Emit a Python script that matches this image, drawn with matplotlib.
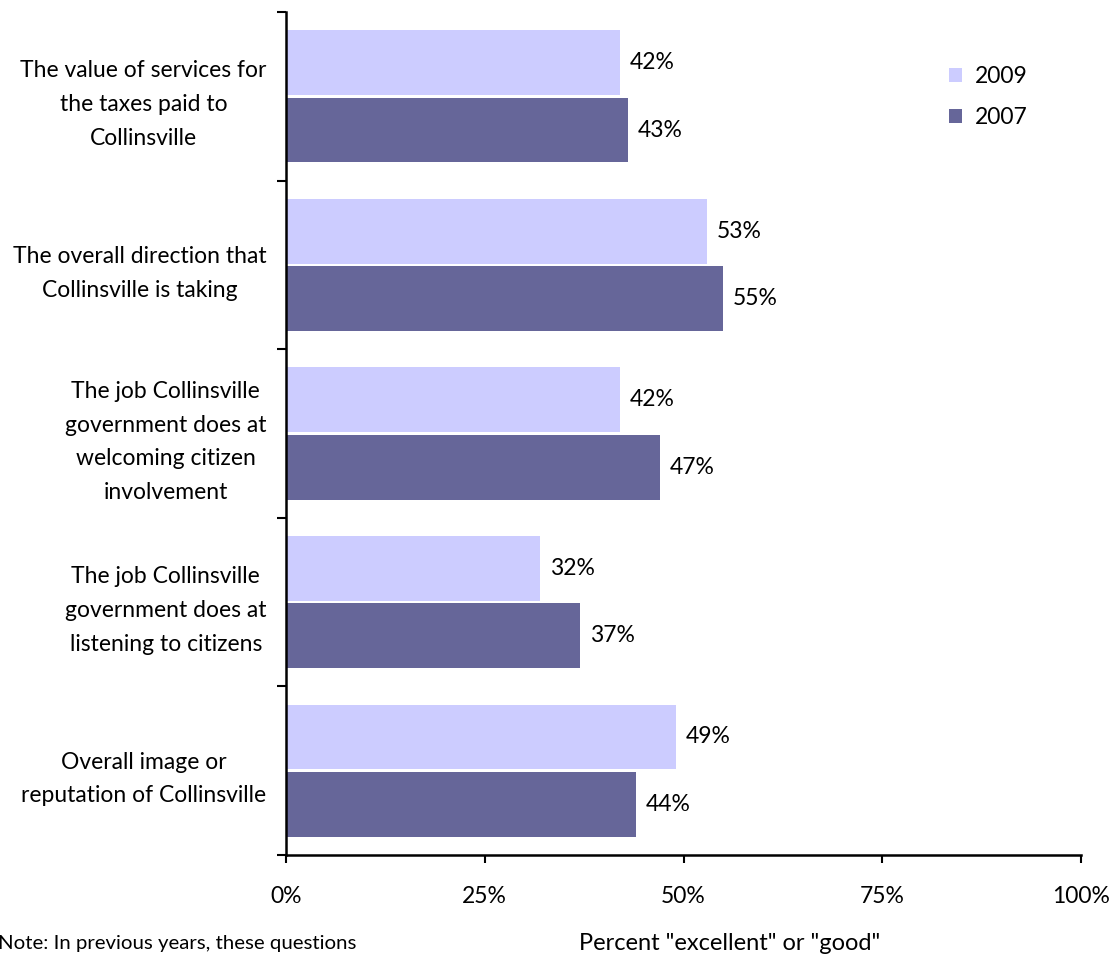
import matplotlib.pyplot as plt
import numpy as np

plt.rcParams['font.family'] = ['Lato', 'DejaVu Sans']

categories = [
    "The value of services for\nthe taxes paid to\nCollinsville",
    "The overall direction that\nCollinsville is taking",
    "The job Collinsville\ngovernment does at\nwelcoming citizen\ninvolvement",
    "The job Collinsville\ngovernment does at\nlistening to citizens",
    "Overall image or\nreputation of Collinsville",
]
vals_2009 = [42, 53, 42, 32, 49]
vals_2007 = [43, 55, 47, 37, 44]
xticks = [0, 25, 50, 75, 100]

c09 = "#ccccff"
c07 = "#666699"
fs = 16.5

fig = plt.figure(figsize=(11.15, 9.59), dpi=100)
ax = fig.add_axes([286 / 1115, 1 - 855 / 959, (1081 - 286) / 1115, (855 - 12) / 959])

y = np.arange(len(categories))
h = 0.385
b1 = ax.barh(y - 0.2, vals_2009, height=h, color=c09, label="2009")
b2 = ax.barh(y + 0.2, vals_2007, height=h, color=c07, label="2007")

for bars, vals in ((b1, vals_2009), (b2, vals_2007)):
    for bar, v in zip(bars, vals):
        ax.annotate(f"{v}%", (bar.get_width(), bar.get_y() + bar.get_height() / 2),
                    xytext=(7, 0), textcoords="offset points",
                    va="center", ha="left", fontsize=fs)

ax.set_xlim(0, 100)
ax.set_ylim(len(categories) - 0.5, -0.5)
ax.set_xticks(xticks)
ax.set_xticklabels([f"{t}%" for t in xticks], fontsize=fs)
ax.tick_params(axis="x", length=6, width=1.5, direction="out", pad=16)

ax.set_yticks(y)
ax.set_yticklabels(categories, fontsize=fs, multialignment="center", linespacing=1.75)
ax.tick_params(axis="y", which="major", length=0, pad=14)
ax.set_yticks(np.arange(len(categories) + 1) - 0.5, minor=True)
ax.tick_params(axis="y", which="minor", length=6.5, width=1.5, direction="out")

for s in ("top", "right"):
    ax.spines[s].set_visible(False)
for s in ("left", "bottom"):
    ax.spines[s].set_linewidth(1.8)

ax.legend(loc="upper left", bbox_to_anchor=(0.808, 0.96), frameon=False,
          fontsize=fs, handlelength=0.55, handleheight=0.55, handletextpad=0.6,
          labelspacing=0.85)

fig.text(730 / 1115, 1 - 943 / 959, 'Percent "excellent" or "good"',
         ha="center", va="center", fontsize=17)
fig.text(-2 / 1115, 1 - 943 / 959, "Note: In previous years, these questions",
         ha="left", va="center", fontsize=14.7)

fig.savefig("out.png", dpi=100)
